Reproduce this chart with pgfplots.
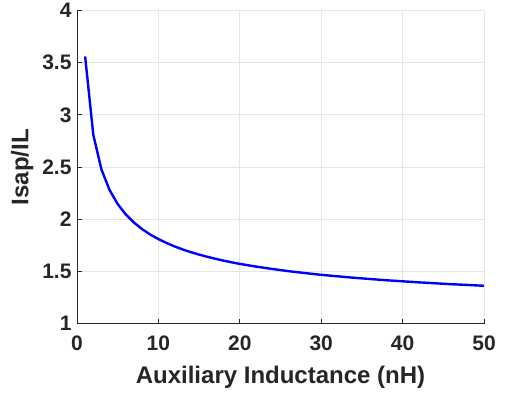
\documentclass[border=0pt]{standalone}
\usepackage{fontspec}
\setmainfont{Liberation Sans}
\usepackage{pgfplots}
\pgfplotsset{compat=1.18}
\begin{document}
\begin{tikzpicture}
\begin{axis}[
  scale only axis,
  width=407pt, height=313pt,
  xmin=0, xmax=50, ymin=1, ymax=4,
  xtick={0,10,...,50},
  ytick={1,1.5,2,2.5,3,3.5,4},
  axis lines*=left,
  axis line style={color=black!85, line width=0.8pt},
  tick style={color=black!85, line width=0.8pt},
  tick align=inside,
  major tick length=5pt,
  grid=major,
  major grid style={color=black!10, line width=0.8pt},
  /pgf/number format/assume math mode=true,
  ticklabel style={font=\fontsize{21}{25}\selectfont\bfseries, color=black!85},
  label style={font=\fontsize{24}{28}\selectfont\bfseries, color=black!85},
  xlabel={Auxiliary Inductance (nH)},
  ylabel={Isap/IL},
  xticklabel style={yshift=-9pt},
  xlabel style={yshift=-8pt},
  ylabel style={yshift=2pt},
  yticklabel style={xshift=-2pt},
  clip=false,
]
\addplot[color=blue, line width=2.4pt] coordinates {
(1,3.560) (2,2.810) (3,2.478) (4,2.280) (5,2.145) (6,2.045) (7,1.968) (8,1.905)
(9,1.853) (10,1.810) (11,1.772) (12,1.739) (13,1.710) (14,1.684) (15,1.661)
(16,1.640) (17,1.621) (18,1.603) (19,1.587) (20,1.572) (22,1.546) (24,1.523)
(26,1.502) (28,1.484) (30,1.467) (32,1.453) (34,1.439) (36,1.427) (38,1.415)
(40,1.405) (42,1.395) (44,1.386) (46,1.377) (48,1.370) (50,1.362)
};
\end{axis}
\path ([xshift=-77pt,yshift=-71pt]current axis.south west) rectangle ([xshift=21pt,yshift=10pt]current axis.north east);
\end{tikzpicture}
\end{document}
